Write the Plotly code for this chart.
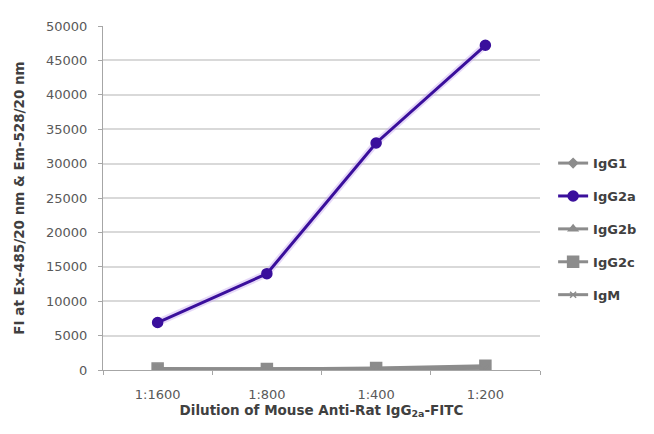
import plotly.graph_objects as go

categories = ["1:1600", "1:800", "1:400", "1:200"]
igg1 = [150, 130, 200, 350]
igg2a = [6900, 14000, 33000, 47200]
igg2b = [100, 100, 150, 300]
igg2c = [200, 150, 300, 600]
igm = [100, 80, 120, 250]

gray = "#8c8c8c"
purple = "#3a0f9c"

series = [
    ("IgG1", igg1, gray, "diamond", 7),
    ("IgG2a", igg2a, purple, "circle", 10),
    ("IgG2b", igg2b, gray, "triangle-up", 8),
    ("IgG2c", igg2c, gray, "square", 11),
    ("IgM", igm, gray, "x-thin", 6),
]

fig = go.Figure()
# halo for the purple line
fig.add_trace(go.Scatter(x=categories, y=igg2a, mode="lines",
                         line=dict(color="rgba(200,170,240,0.45)", width=7),
                         showlegend=False, hoverinfo="skip"))
for name, vals, col, sym, size in series:
    fig.add_trace(go.Scatter(
        x=categories, y=vals, name=name, mode="lines+markers",
        legendgroup=name,
        line=dict(color=col, width=3),
        marker=dict(symbol=sym, size=size, color=col,
                    line=dict(color=col, width=1.5)),
    ))

fig.update_layout(
    width=654, height=434,
    margin=dict(l=94, r=122, t=11, b=72),
    paper_bgcolor="white", plot_bgcolor="white",
    font=dict(family="DejaVu Sans, sans-serif", size=13, color="#595959"),
    legend=dict(x=1.03, y=0.645, xanchor="left", yanchor="top",
                font=dict(size=13, color="#404040", weight="bold"),
                tracegroupgap=13, itemwidth=30,
                bgcolor="rgba(0,0,0,0)"),
    showlegend=True,
)
fig.update_xaxes(
    type="category", range=[-0.5, 3.5],
    showline=True, linecolor="#a6a6a6", linewidth=1,
    ticks="outside", tickson="boundaries", ticklen=4, tickcolor="#a6a6a6",
    showgrid=False, ticklabelstandoff=12,
    tickfont=dict(size=13, color="#595959"),
    title=dict(text="<b>Dilution of Mouse Anti-Rat IgG<sub>2a</sub>-FITC</b>",
               font=dict(size=13.5, color="#404040"), standoff=4),
)
fig.update_yaxes(
    range=[0, 50000], dtick=5000, tickformat="d",
    showline=True, linecolor="#a6a6a6", linewidth=1,
    ticks="outside", ticklen=4, tickcolor="#a6a6a6",
    showgrid=True, gridcolor="#d9d9d9", gridwidth=1.5,
    zeroline=False, ticklabelstandoff=8,
    tickfont=dict(size=13, color="#595959"),
    title=dict(text="<b>FI at Ex-485/20 nm & Em-528/20 nm</b>",
               font=dict(size=13.5, color="#404040"), standoff=18),
)

fig.write_html("out.html")
